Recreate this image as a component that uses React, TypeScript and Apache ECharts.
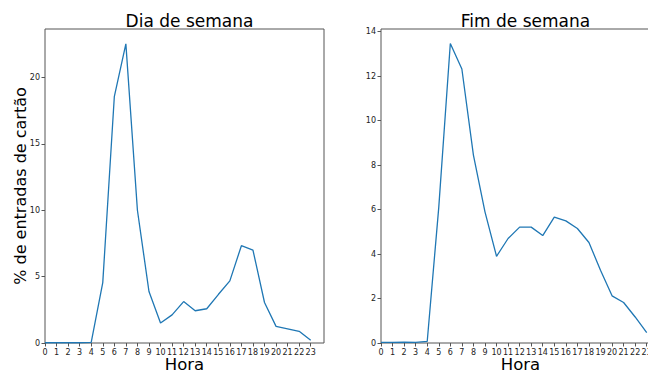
import React, { useEffect, useRef } from "react";
import * as echarts from "echarts";

const hours = [0, 1, 2, 3, 4, 5, 6, 7, 8, 9, 10, 11, 12, 13, 14, 15, 16, 17, 18, 19, 20, 21, 22, 23];
const weekdayValues = [0.02, 0.02, 0.02, 0.02, 0.05, 4.55, 18.55, 22.53, 10.0, 3.88, 1.5, 2.12, 3.12, 2.43, 2.58, 3.65, 4.68, 7.33, 7.0, 3.05, 1.25, 1.07, 0.88, 0.2];
const weekendValues = [0.03, 0.03, 0.04, 0.03, 0.07, 6.1, 13.47, 12.32, 8.45, 5.9, 3.9, 4.7, 5.21, 5.21, 4.83, 5.66, 5.49, 5.15, 4.52, 3.27, 2.12, 1.82, 1.17, 0.47];
const weekdayYTicks = [0, 5, 10, 15, 20];
const weekendYTicks = [0, 2, 4, 6, 8, 10, 12, 14];
const titles = ["Dia de semana", "Fim de semana"];
const xLabel = "Hora";
const yLabel = "% de entradas de cartão";

const FONT = "DejaVu Sans";
const SPINE = "#555";
const LINE = "#1f77b4";

function xAxisCfg(gridIndex: number) {
  return {
    type: "value" as const,
    gridIndex,
    min: 0,
    max: 24.15,
    name: xLabel,
    nameLocation: "middle" as const,
    nameGap: 13,
    nameMoveOverlap: false,
    nameTextStyle: { fontFamily: FONT, fontSize: 16.5, color: "#000" },
    axisLine: { show: false },
    axisTick: { show: true, inside: false, length: 3.5, customValues: hours, lineStyle: { color: SPINE, width: 1 } },
    axisLabel: { show: true, margin: 5, customValues: hours, fontFamily: FONT, fontSize: 8, color: "#222", showMinLabel: true, showMaxLabel: true },
    splitLine: { show: false },
  };
}

function yAxisCfg(gridIndex: number, max: number, ticks: number[], name: string) {
  return {
    type: "value" as const,
    gridIndex,
    min: 0,
    max,
    name,
    nameLocation: "middle" as const,
    nameGap: 17,
    nameMoveOverlap: false,
    nameTextStyle: { fontFamily: FONT, fontSize: 16, color: "#000" },
    axisLine: { show: false },
    axisTick: { show: true, inside: false, length: 3.5, customValues: ticks, lineStyle: { color: SPINE, width: 1 } },
    axisLabel: { show: true, margin: 5, customValues: ticks, fontFamily: FONT, fontSize: 8, color: "#222" },
    splitLine: { show: false },
  };
}

export default function App() {
  const ref = useRef<HTMLDivElement>(null);
  useEffect(() => {
    document.body.style.margin = "0";
    document.body.style.overflow = "hidden";
    if (!ref.current) return;
    const chart = echarts.init(ref.current, undefined, { renderer: "svg" });
    chart.setOption({
      animation: false,
      backgroundColor: "#fff",
      title: [
        { text: titles[0], left: 184.5, top: 7, textAlign: "center", textStyle: { fontFamily: FONT, fontSize: 17, fontWeight: "normal", color: "#000" } },
        { text: titles[1], left: 520.5, top: 7, textAlign: "center", textStyle: { fontFamily: FONT, fontSize: 17, fontWeight: "normal", color: "#000" } },
      ],
      grid: [
        { left: 45, top: 29, width: 279, height: 314, outerBoundsMode: "none", containLabel: false, show: true, borderColor: SPINE, borderWidth: 1, backgroundColor: "transparent" },
        { left: 381, top: 29, width: 279, height: 314, outerBoundsMode: "none", containLabel: false, show: true, borderColor: SPINE, borderWidth: 1, backgroundColor: "transparent" },
      ],
      xAxis: [xAxisCfg(0), xAxisCfg(1)],
      yAxis: [yAxisCfg(0, 23.65, weekdayYTicks, yLabel), yAxisCfg(1, 14.12, weekendYTicks, "")],
      series: [
        {
          type: "line",
          xAxisIndex: 0,
          yAxisIndex: 0,
          data: hours.map((h, i) => [h, weekdayValues[i]]),
          showSymbol: false,
          lineStyle: { color: LINE, width: 1.3 },
          itemStyle: { color: LINE },
        },
        {
          type: "line",
          xAxisIndex: 1,
          yAxisIndex: 1,
          data: hours.map((h, i) => [h, weekendValues[i]]),
          showSymbol: false,
          lineStyle: { color: LINE, width: 1.3 },
          itemStyle: { color: LINE },
        },
      ],
    });
    return () => chart.dispose();
  }, []);
  return <div ref={ref} style={{ width: 648, height: 372 }} />;
}
